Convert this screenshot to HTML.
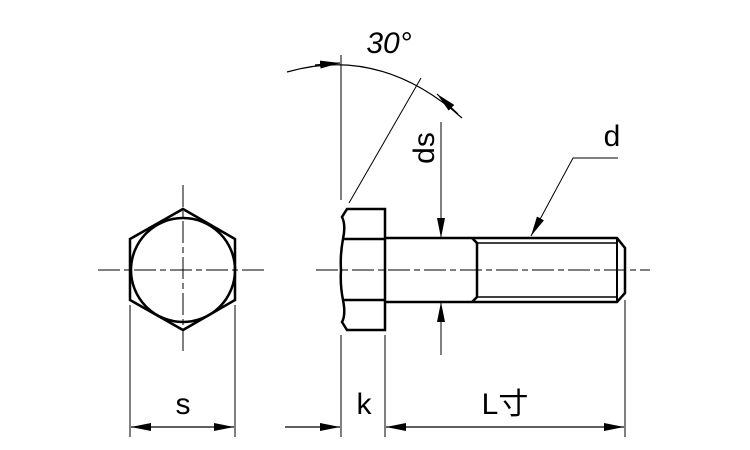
<!DOCTYPE html>
<html><head><meta charset="utf-8"><style>body{margin:0;background:#fff}svg{display:block}</style></head><body>
<svg width="750" height="450" viewBox="0 0 750 450" xmlns="http://www.w3.org/2000/svg">
<defs>
<marker id="a" viewBox="0 0 20 8" refX="20" refY="4" markerWidth="20" markerHeight="8" markerUnits="userSpaceOnUse" orient="auto"><path d="M0,0L20,4L0,8z" fill="#000"/></marker>
</defs>
<g fill="none" stroke="#000">
<polygon points="183,209 235,239 235,300 183,330 130,300 130,239" stroke-width="2.5"/>
<circle cx="183" cy="270" r="52" stroke-width="2.5"/>
<line x1="183" y1="185" x2="183" y2="353" stroke-width="1" stroke-dasharray="22,4,6,4"/>
<line x1="98" y1="270" x2="268" y2="270" stroke-width="1" stroke-dasharray="22,4,6,4"/>
<line x1="130" y1="305" x2="130" y2="437" stroke-width="1"/>
<line x1="235" y1="305" x2="235" y2="437" stroke-width="1"/>
<line x1="183" y1="427" x2="131" y2="427" stroke-width="1.2" marker-end="url(#a)"/>
<line x1="183" y1="427" x2="234" y2="427" stroke-width="1.2" marker-end="url(#a)"/>
<path d="M347,209 L385,209 L385,330 L347,330 L342,322 Q346,315 343,300 Q340,285 341,270 Q340,255 343,239 Q346,225 342,217 Z" stroke-width="2.5"/>
<line x1="343" y1="239" x2="385" y2="239" stroke-width="2.5"/>
<line x1="343" y1="300" x2="385" y2="300" stroke-width="2.5"/>
<line x1="385" y1="238" x2="472" y2="238" stroke-width="2.5"/>
<line x1="385" y1="302" x2="472" y2="302" stroke-width="2.5"/>
<path d="M472,238 L477,243 L477,297 L472,302" stroke-width="2.5"/>
<path d="M472,238 L617,238 L625,248 L625,293 L617,302 L472,302" stroke-width="2.5"/>
<line x1="477" y1="243" x2="617" y2="243" stroke-width="1.5"/>
<line x1="477" y1="297" x2="617" y2="297" stroke-width="1.5"/>
<line x1="617" y1="238" x2="617" y2="302" stroke-width="2"/>
<line x1="316" y1="270" x2="650" y2="270" stroke-width="1" stroke-dasharray="22,4,6,4"/>
<line x1="341" y1="55" x2="341" y2="200" stroke-width="1"/>
<line x1="341" y1="335" x2="341" y2="437" stroke-width="1"/>
<line x1="385" y1="335" x2="385" y2="437" stroke-width="1"/>
<line x1="625" y1="300" x2="625" y2="437" stroke-width="1"/>
<line x1="349" y1="203" x2="421" y2="78" stroke-width="1"/>
<path d="M287,72 Q380,45 462,118" stroke-width="1.2"/>
<line x1="315" y1="65" x2="340" y2="63" stroke-width="1.2" marker-end="url(#a)"/>
<line x1="458" y1="114" x2="437" y2="94" stroke-width="1.2" marker-end="url(#a)"/>
<line x1="441" y1="122" x2="441" y2="238" stroke-width="1" marker-end="url(#a)"/>
<line x1="441" y1="355" x2="441" y2="302" stroke-width="1" marker-end="url(#a)"/>
<path d="M618,158 L573,158 L531,236" stroke-width="1" marker-end="url(#a)"/>
<line x1="285" y1="427" x2="340" y2="427" stroke-width="1.2" marker-end="url(#a)"/>
<line x1="505" y1="427" x2="386" y2="427" stroke-width="1.2" marker-end="url(#a)"/>
<line x1="505" y1="427" x2="624" y2="427" stroke-width="1.2" marker-end="url(#a)"/>
</g>
<g font-family="Liberation Sans, Noto Sans CJK JP, sans-serif" fill="#000" font-size="30" text-anchor="middle">
<text x="183" y="414">s</text>
<text x="364" y="414">k</text>
<text x="505" y="414">L寸</text>
<text x="612" y="146">d</text>
<text x="389" y="53" font-style="italic">30°</text>
<text transform="translate(434,148) rotate(-90)">ds</text>
</g>
</svg>
</body></html>
